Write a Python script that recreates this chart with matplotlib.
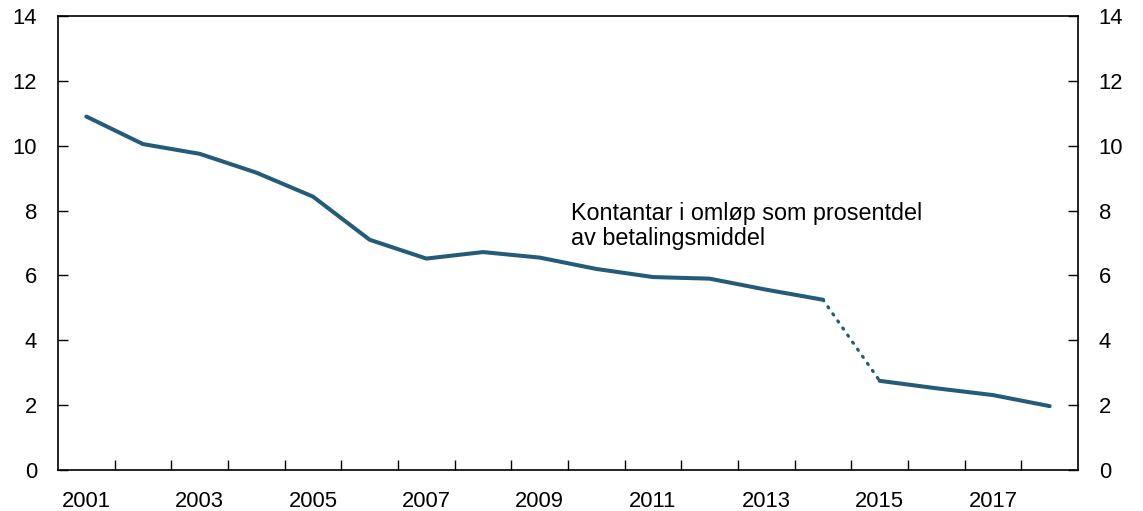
import matplotlib.pyplot as plt
import numpy as np

plt.rcParams['font.family'] = ['Liberation Sans', 'DejaVu Sans']

years = list(range(2001, 2019))
share = [10.9, 10.05, 9.75, 9.17, 8.43, 7.1, 6.52, 6.72, 6.55, 6.2,
         5.95, 5.9, 5.56, 5.25, 2.75, 2.52, 2.31, 1.97]
break_at = years.index(2014)  # dotted link between 2014 and 2015
label = "Kontantar i omløp som prosentdel\nav betalingsmiddel"

color = "#235b79"
fs = 15.8

fig = plt.figure(figsize=(11.43, 5.11), dpi=100)
ax = fig.add_axes([58 / 1143, 41 / 511, 1020 / 1143, 454 / 511])

x = np.arange(len(years))
v = np.array(share)
ax.plot(x[:break_at + 1], v[:break_at + 1], color=color, lw=2.9,
        solid_capstyle="round", solid_joinstyle="round")
ax.plot(x[break_at:break_at + 2], v[break_at:break_at + 2], color=color, lw=2.3,
        linestyle=(0, (0.4, 2.3)), dash_capstyle="round")
ax.plot(x[break_at + 1:], v[break_at + 1:], color=color, lw=2.9,
        solid_capstyle="round", solid_joinstyle="round")

ax.text(8.56, 8.25, label, fontsize=16.8, va="top", ha="left", linespacing=1.1)

ax.set_xlim(-0.5, len(years) - 0.5)
ax.set_ylim(0, 14)
ax.set_yticks(range(0, 15, 2))

# labels under every other year, tick marks between years
ax.set_xticks(x[::2])
ax.set_xticklabels([str(y) for y in years[::2]], fontsize=fs)
ax.set_xticks(x[:-1] + 0.5, minor=True)
ax.tick_params(axis="x", which="major", length=0, pad=15)
ax.tick_params(axis="x", which="minor", direction="in", length=7, width=1)

ax.tick_params(axis="y", direction="in", length=7, width=1, labelsize=fs,
               left=True, right=True, labelleft=True, labelright=True, pad=15)

for s in ax.spines.values():
    s.set_linewidth(1.2)

fig.savefig("out.png", dpi=100)
